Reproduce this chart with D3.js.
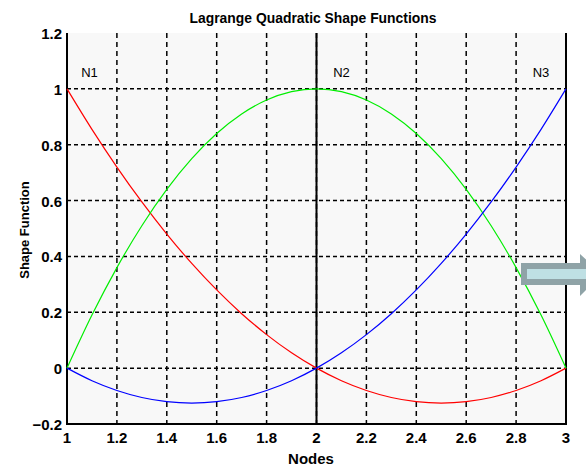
<!DOCTYPE html>
<html>
<head>
<meta charset="utf-8">
<script src="https://cdn.jsdelivr.net/npm/d3@7"></script>
<style>
  body { margin: 0; background: #fff; }
  text { font-family: "Liberation Sans", Arial, sans-serif; fill: #000; }
</style>
</head>
<body>
<div id="chart"></div>
<script>
// node positions (x) and values
var xs = [1, 1.1, 1.2, 1.3, 1.4, 1.5, 1.6, 1.7, 1.8, 1.9, 2, 2.1, 2.2, 2.3, 2.4, 2.5, 2.6, 2.7, 2.8, 2.9, 3];
var n1 = [1, 0.855, 0.72, 0.595, 0.48, 0.375, 0.28, 0.195, 0.12, 0.055, 0, -0.045, -0.08, -0.105, -0.12, -0.125, -0.12, -0.105, -0.08, -0.045, 0];
var n2 = [0, 0.19, 0.36, 0.51, 0.64, 0.75, 0.84, 0.91, 0.96, 0.99, 1, 0.99, 0.96, 0.91, 0.84, 0.75, 0.64, 0.51, 0.36, 0.19, 0];
var n3 = [0, -0.045, -0.08, -0.105, -0.12, -0.125, -0.12, -0.105, -0.08, -0.045, 0, 0.055, 0.12, 0.195, 0.28, 0.375, 0.48, 0.595, 0.72, 0.855, 1];

var xTicks = [1, 1.2, 1.4, 1.6, 1.8, 2, 2.2, 2.4, 2.6, 2.8, 3];
var yTicks = [-0.2, 0, 0.2, 0.4, 0.6, 0.8, 1, 1.2];
var nodeLabels = [{t: "N1", x: 1.09}, {t: "N2", x: 2.1}, {t: "N3", x: 2.9}];

var W = 586, H = 464;
var m = {left: 67, right: 566, top: 33, bottom: 424};

var svg = d3.select("#chart").append("svg")
  .attr("width", W).attr("height", H);

var x = d3.scaleLinear().domain([1, 3]).range([m.left, m.right]);
var y = d3.scaleLinear().domain([-0.2, 1.2]).range([m.bottom, m.top]);

// plot background
svg.append("rect")
  .attr("x", m.left).attr("y", m.top)
  .attr("width", m.right - m.left).attr("height", m.bottom - m.top)
  .attr("fill", "#f8f8f8");

// dashed grid
svg.selectAll(".vgrid").data(xTicks.slice(1, -1)).enter().append("line")
  .attr("x1", d => x(d)).attr("x2", d => x(d))
  .attr("y1", m.top).attr("y2", m.bottom)
  .attr("stroke", "#000").attr("stroke-width", 1.5)
  .attr("stroke-dasharray", "5,4");
svg.selectAll(".hgrid").data(yTicks.slice(1, -1)).enter().append("line")
  .attr("x1", m.left).attr("x2", m.right)
  .attr("y1", d => y(d)).attr("y2", d => y(d))
  .attr("stroke", "#000").attr("stroke-width", 1.5)
  .attr("stroke-dasharray", "4,3");

// solid line at middle node
svg.append("line")
  .attr("x1", x(2)).attr("x2", x(2))
  .attr("y1", m.top).attr("y2", m.bottom)
  .attr("stroke", "#000").attr("stroke-width", 2);

// axis frame (left, bottom, right)
svg.append("path")
  .attr("d", "M" + m.left + "," + m.top + "V" + m.bottom + "H" + m.right + "V" + m.top)
  .attr("fill", "none").attr("stroke", "#000").attr("stroke-width", 2);

// curves
var line = d3.line()
  .x((d, i) => x(xs[i]))
  .y(d => y(d))
  .curve(d3.curveMonotoneX);

[[n1, "#ff0000"], [n2, "#00ee00"], [n3, "#0000ff"]].forEach(function(s) {
  svg.append("path")
    .attr("d", line(s[0]))
    .attr("fill", "none")
    .attr("stroke", s[1])
    .attr("stroke-width", 1.2);
});

// tick labels
svg.selectAll(".xt").data(xTicks).enter().append("text")
  .attr("x", d => x(d)).attr("y", 443)
  .attr("text-anchor", "middle")
  .style("font-size", "15px").style("font-weight", "bold")
  .text(d => d3.format("")(d));
svg.selectAll(".yt").data(yTicks).enter().append("text")
  .attr("x", 62).attr("y", d => y(d) + 6)
  .attr("text-anchor", "end")
  .style("font-size", "15px").style("font-weight", "bold")
  .text(d => d3.format("")(d));

// node labels
svg.selectAll(".nl").data(nodeLabels).enter().append("text")
  .attr("x", d => x(d.x)).attr("y", 77)
  .attr("text-anchor", "middle")
  .style("font-size", "13px")
  .text(d => d.t);

// title and axis labels
svg.append("text")
  .attr("x", 313).attr("y", 23)
  .attr("text-anchor", "middle")
  .attr("textLength", 247).attr("lengthAdjust", "spacingAndGlyphs")
  .style("font-size", "15px").style("font-weight", "bold")
  .text("Lagrange Quadratic Shape Functions");
svg.append("text")
  .attr("transform", "translate(29,230) rotate(-90)")
  .attr("text-anchor", "middle")
  .style("font-size", "13px").style("font-weight", "bold")
  .text("Shape Function");
svg.append("text")
  .attr("x", 311).attr("y", 464)
  .attr("text-anchor", "middle")
  .style("font-size", "15px").style("font-weight", "bold")
  .text("Nodes");

// decorative arrow on the right edge
var arrow = svg.append("g");
arrow.append("path")
  .attr("d", "M521,263H580V254L602,274L580,296V285H521Z")
  .attr("fill", "#8fa3a7");
arrow.append("rect")
  .attr("x", 527).attr("y", 269).attr("width", 62).attr("height", 10)
  .attr("fill", "#bfe0e4");
</script>
</body>
</html>
